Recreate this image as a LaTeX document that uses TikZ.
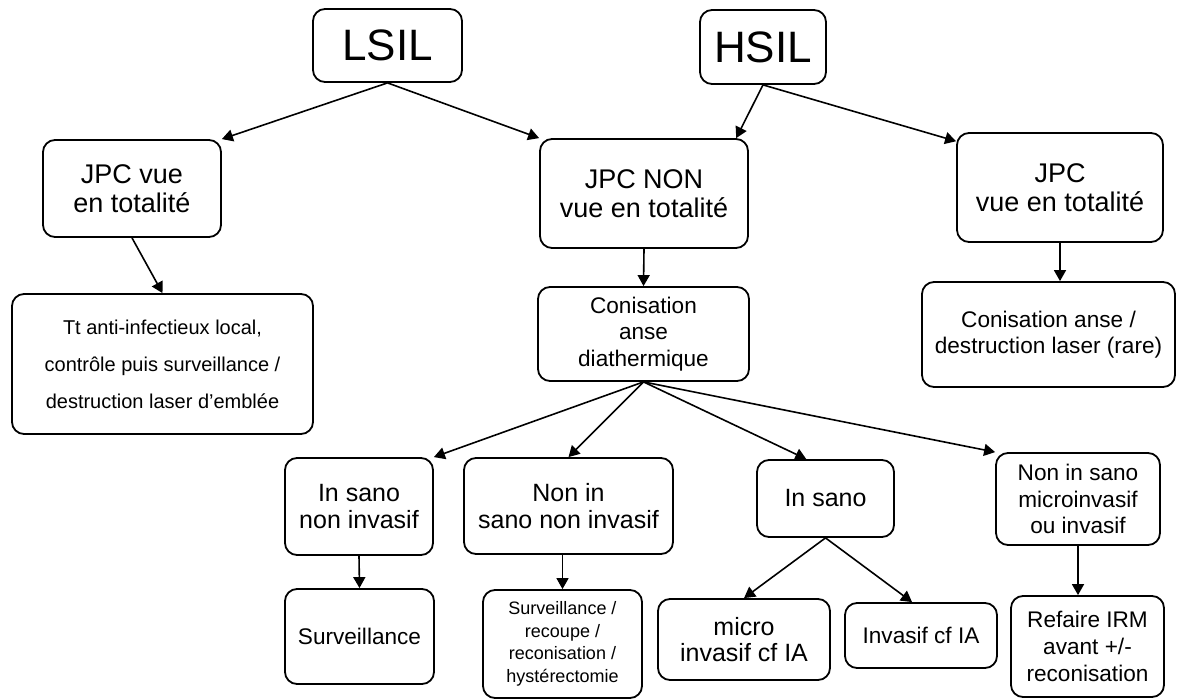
\documentclass[tikz,border=0pt]{standalone}
\usepackage{fontspec}
\setmainfont{Liberation Sans}
\usetikzlibrary{arrows.meta}
\begin{document}
\begin{tikzpicture}[x=0.5pt,y=-0.5pt]
\tikzset{boite/.style={draw, rounded corners=6pt, line width=0.9pt, align=center, inner sep=1pt},
fleche/.style={-{Triangle[length=5.5pt,width=6pt]}, line width=0.8pt},
titre/.style={font=\fontsize{22}{26}\selectfont},
grand/.style={font=\fontsize{13.5}{14.5}\selectfont},
moyen/.style={font=\fontsize{12.5}{13.3}\selectfont},
petit/.style={font=\fontsize{11.3}{13.3}\selectfont},
aere/.style={font=\fontsize{10}{18.5}\selectfont},
mini/.style={font=\fontsize{9}{11.3}\selectfont}}
\useasboundingbox (0,0) rectangle (1177,699);
\node[boite, titre, minimum width=74.5pt, minimum height=36.5pt] (L) at (387.5,45.5) {LSIL};
\node[boite, titre, minimum width=63pt, minimum height=37pt] (H) at (763,47) {HSIL};
\node[boite, grand, minimum width=89pt, minimum height=48.5pt] (jpcA) at (132,188.5) {JPC vue\\en totalité};
\node[boite, grand, minimum width=104pt, minimum height=54.5pt] (jpcN) at (644,193.5) {JPC NON\\vue en totalité};
\node[boite, grand, minimum width=103pt, minimum height=54.5pt] (jpcD) at (1060,187.5) {JPC\\vue en totalité};
\node[boite, aere, minimum width=150.5pt, minimum height=70pt] (tt) at (162.5,364) {Tt anti-infectieux local,\\contrôle puis surveillance /\\destruction laser d’emblée};
\node[boite, petit, minimum width=105.5pt, minimum height=47pt] (conis) at (643.5,334) {Conisation\\anse\\diathermique};
\node[boite, petit, minimum width=126.5pt, minimum height=52.5pt] (conisD) at (1048.5,334.5) {Conisation anse /\\destruction laser (rare)};
\node[boite, moyen, minimum width=74pt, minimum height=48.5pt] (isni) at (359,506.5) {In sano\\non invasif};
\node[boite, moyen, minimum width=104.5pt, minimum height=48pt] (nisni) at (568.5,506) {Non in\\sano non invasif};
\node[boite, moyen, minimum width=68.5pt, minimum height=38.5pt] (is) at (825.5,498.5) {In sano};
\node[boite, petit, minimum width=82pt, minimum height=46pt] (nismi) at (1078,499) {Non in sano\\microinvasif\\ou invasif};
\node[boite, petit, minimum width=74.5pt, minimum height=47.5pt] (surv) at (359.5,636.5) {Surveillance};
\node[boite, mini, minimum width=79.5pt, minimum height=54pt] (survR) at (562.5,644) {Surveillance /\\recoupe /\\reconisation /\\hystérectomie};
\node[boite, moyen, minimum width=86pt, minimum height=40.5pt] (micro) at (744,639.5) {micro\\invasif cf IA};
\node[boite, petit, minimum width=76pt, minimum height=32.5pt] (inv) at (921,635.5) {Invasif cf IA};
\node[boite, petit, minimum width=76.5pt, minimum height=50.5pt] (irm) at (1087.5,646.5) {Refaire IRM\\avant +/-\\reconisation};
\draw[fleche] (L.south) -- (jpcA.north east);
\draw[fleche] (L.south) -- (jpcN.north west);
\draw[fleche] (H.south) -- (jpcN.31);
\draw[fleche] (H.south) -- (jpcD.156);
\draw[fleche] (jpcA.south) -- (tt.north);
\draw[fleche] (jpcN.south) -- (conis.north);
\draw[fleche] (jpcD.south) -- (jpcD.south |- conisD.north);
\draw[fleche] (conis.south) -- (isni.north east);
\draw[fleche] (conis.south) -- (nisni.north);
\draw[fleche] (conis.south) -- (is.116);
\draw[fleche] (conis.south) -- (nismi.north west);
\draw[fleche] (isni.south) -- (surv.north);
\draw[fleche] (nisni.south -| survR.north) -- (survR.north);
\draw[fleche] (is.south) -- (micro.north);
\draw[fleche] (is.south) -- (inv.105);
\draw[fleche] (nismi.south) -- (nismi.south |- irm.north);
\end{tikzpicture}
\end{document}
